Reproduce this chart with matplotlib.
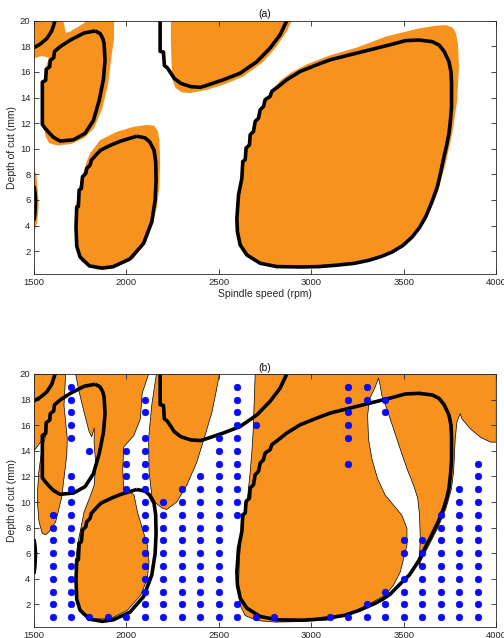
import numpy as np
import matplotlib.pyplot as plt

plt.rcParams['font.family'] = ['Liberation Sans', 'DejaVu Sans']

ORANGE = '#f7921e'

# ---- stability lobes (black lines), (rpm, depth mm) ----
lobe_arc = [(1500, 17.9), (1532, 18.16), (1569, 18.6), (1596, 19.2), (1614, 20)]

lobe_upper_left = [(1830, 19.2), (1857, 19.0), (1872, 18.6), (1879, 18.2), (1884, 16.9),
                   (1875, 15.4), (1853, 13.8), (1821, 12.2), (1776, 11.2), (1713, 10.7),
                   (1641, 10.6), (1605, 10.9), (1578, 11.3), (1560, 11.6), (1545, 11.9),
                   (1545, 15.2), (1563, 15.35), (1566, 16.2), (1585, 16.4), (1588, 16.9),
                   (1606, 17.1), (1611, 17.6), (1644, 18.0), (1698, 18.5), (1771, 19.04),
                   (1830, 19.2)]

lobe_lower_left = [(2056, 10.98), (2100, 10.85), (2125, 10.55), (2149, 9.9), (2158, 9.0),
                   (2160, 7.5), (2155, 5.98), (2137, 4.3), (2092, 2.6), (2019, 1.4),
                   (1929, 0.8), (1870, 0.68), (1800, 0.85), (1749, 1.55), (1731, 2.4),
                   (1727, 3.9), (1731, 5.46), (1740, 5.5), (1744, 6.77), (1756, 6.9),
                   (1762, 7.81), (1780, 8.07), (1785, 8.46), (1803, 8.72), (1810, 9.11),
                   (1834, 9.5), (1861, 9.9), (1915, 10.28), (1969, 10.6), (2056, 10.98)]

lobe_edge = [(1500, 7.1), (1505, 6.6), (1508, 6.0), (1505, 5.0), (1500, 4.4)]

lobe_top = [(2182, 20), (2182, 17.6), (2200, 17.55), (2205, 16.5), (2222, 16.3),
            (2240, 15.9), (2258, 15.5), (2294, 15.1), (2348, 14.85), (2400, 14.8),
            (2434, 14.95), (2524, 15.39), (2615, 15.9), (2705, 16.8), (2777, 17.87),
            (2831, 18.9), (2867, 20)]

# upper / left part of the big lobe, same in both panels
big_left = [(2950, 0.77), (2813, 0.8), (2723, 1.06), (2651, 1.71), (2615, 2.49),
            (2600, 3.53), (2597, 4.57), (2606, 6.4), (2624, 7.7), (2629, 9.0),
            (2642, 9.14), (2647, 10.05), (2665, 10.3), (2669, 11.09), (2687, 11.35),
            (2696, 12.13), (2714, 12.39), (2723, 13.04), (2741, 13.3), (2750, 13.83),
            (2777, 14.09), (2786, 14.48), (2822, 14.87), (2867, 15.39), (2940, 16.04),
            (3030, 16.56), (3102, 16.95), (3246, 17.47), (3426, 18.12), (3509, 18.44),
            (3582, 18.49), (3654, 18.36), (3690, 18.1), (3718, 17.6), (3744, 16.8),
            (3755, 16.0), (3758, 15.1), (3758, 13.28)]
big_right_a = [(3752, 12.2), (3744, 11.19), (3732, 10.3), (3717, 9.37), (3700, 8.2),
               (3681, 7.02), (3652, 5.85), (3618, 4.68), (3585, 3.85), (3545, 3.11),
               (3495, 2.45), (3437, 1.94), (3380, 1.6), (3311, 1.29), (3230, 1.05),
               (3130, 0.9), (3040, 0.8), (2950, 0.77)]
big_right_b = [(3752, 12.1), (3744, 11.06), (3732, 10.3), (3715, 9.5), (3693, 8.7),
               (3668, 7.93), (3645, 7.25), (3622, 6.63), (3600, 6.0), (3580, 5.4),
               (3555, 4.85), (3530, 4.3), (3480, 3.6), (3426, 2.8), (3385, 2.4),
               (3347, 2.1), (3260, 1.55), (3180, 1.15), (3094, 0.95), (3020, 0.83),
               (2950, 0.77)]

# ---- panel (a) unstable regions ----
reg_a_topleft = [(1500, 20), (1659, 20), (1671, 19.04), (1698, 19.17), (1771, 19.8),
                 (1780, 20), (1933, 20), (1933, 18.65), (1918, 17.08), (1900, 15.0),
                 (1870, 13.18), (1825, 11.62), (1771, 10.83), (1698, 10.36), (1626, 10.26),
                 (1581, 10.44), (1563, 10.96), (1554, 11.61), (1551, 15.0), (1563, 16.3),
                 (1580, 17.1), (1540, 17.25), (1500, 17.05)]
reg_a_edge = [(1500, 8.4), (1512, 8.0), (1522, 6.5), (1525, 5.5), (1518, 4.3), (1505, 3.7),
              (1500, 3.6)]
reg_a_lowleft = [(1803, 9.63), (1857, 10.67), (1947, 11.32), (2038, 11.71), (2110, 11.86),
                 (2150, 11.8), (2170, 11.35), (2178, 10.67), (2182, 9.1), (2178, 7.02),
                 (2164, 5.46), (2146, 4.28), (2110, 2.85), (2038, 1.42), (1929, 0.64),
                 (1839, 0.56), (1758, 1.16), (1727, 2.33), (1724, 3.9), (1727, 5.46),
                 (1742, 6.9), (1763, 7.94), (1781, 8.85)]
reg_a_topmid = [(2240, 20), (2894, 20), (2867, 19.17), (2813, 18.0), (2741, 16.8),
                (2633, 15.65), (2524, 15.0), (2434, 14.6), (2344, 14.35), (2300, 14.4),
                (2265, 14.75), (2248, 15.4), (2243, 17.0), (2240, 18.5)]
reg_a_big = [(3401, 18.75), (3582, 19.4), (3680, 19.62), (3730, 19.65), (3765, 19.45),
             (3782, 19.0), (3793, 18.2), (3798, 16.4), (3789, 13.8), (3762, 11.19),
             (3726, 8.85), (3681, 6.5), (3618, 4.42), (3545, 3.0), (3437, 1.85),
             (3311, 1.2), (3130, 0.82), (2950, 0.7), (2813, 0.72), (2723, 0.98),
             (2645, 1.65), (2608, 2.45), (2592, 3.5), (2590, 4.6), (2604, 6.14),
             (2617, 7.7), (2635, 9.27), (2662, 10.6), (2690, 11.7), (2716, 12.6),
             (2745, 13.5), (2780, 14.4), (2830, 15.3), (2885, 15.9), (2976, 16.6),
             (3102, 17.3), (3246, 17.9)]

# ---- panel (b) unstable regions ----
reg_b_left = [(1500, 20), (1671, 20), (1666, 18.6), (1662, 17.55), (1671, 16.25),
              (1680, 14.94), (1677, 13.64), (1666, 12.34), (1650, 10.4), (1635, 9.5),
              (1617, 8.45), (1581, 7.67), (1563, 7.45), (1545, 7.54), (1527, 8.45),
              (1518, 10.0), (1520, 11.06), (1526, 12.36), (1538, 13.67), (1552, 14.6),
              (1563, 15.2), (1500, 14.0)]
reg_b_mid = [(1725, 20), (1744, 18.6), (1771, 17.0), (1798, 15.5), (1812, 15.1),
             (1826, 15.8), (1825, 14.6), (1834, 12.9), (1825, 11.3), (1800, 10.3),
             (1771, 9.24), (1753, 7.93), (1735, 6.63), (1725, 5.33), (1725, 2.72),
             (1753, 1.42), (1825, 0.85), (1915, 0.9), (2005, 1.55), (2077, 2.72),
             (2113, 4.03), (2122, 5.33), (2113, 6.63), (2086, 7.93), (2059, 9.24),
             (2041, 10.54), (2010, 10.9), (1985, 11.0), (1980, 12.5), (1985, 14.3),
             (2040, 15.2), (2075, 16.5), (2085, 18.5), (2120, 20)]
reg_b_b4 = [(2162, 20), (2503, 20), (2488, 18.85), (2462, 17.0), (2425, 15.2),
            (2380, 13.1), (2326, 11.3), (2272, 10.0), (2218, 9.42), (2195, 9.5),
            (2160, 9.9), (2137, 10.5), (2122, 12.4), (2120, 15.0), (2137, 17.6)]
reg_b_right = [(2696, 20), (4000, 20), (4000, 14.68), (3968, 14.68), (3913, 15.07),
               (3859, 15.73), (3814, 16.5), (3805, 16.9), (3787, 16.25), (3778, 14.94),
               (3769, 12.34), (3757, 11.0), (3728, 9.5), (3682, 7.93), (3636, 6.63),
               (3595, 5.5), (3582, 5.0), (3589, 7.15), (3585, 8.98), (3575, 10.3),
               (3553, 11.3), (3517, 12.6), (3480, 14.16), (3444, 15.73), (3408, 17.29),
               (3381, 18.33), (3372, 19.11), (3363, 19.69), (3345, 18.98), (3315, 18.07),
               (3304, 16.77), (3309, 14.94), (3327, 13.38), (3358, 11.82), (3399, 10.54),
               (3444, 9.76), (3489, 8.98), (3517, 7.93), (3517, 6.63), (3499, 5.59),
               (3481, 4.55), (3444, 3.5), (3399, 2.72), (3300, 1.94), (3192, 1.16),
               (3084, 0.77), (2885, 0.64), (2804, 0.62), (2705, 0.74), (2642, 1.13),
               (2615, 1.92), (2605, 3.22), (2611, 5.56), (2619, 7.13), (2633, 8.7),
               (2654, 10.25), (2669, 12.34), (2678, 13.9), (2685, 15.5), (2690, 17.5)]

# ---- test cuts (rpm -> depths, mm) ----
cut_rpm = [1600, 1700, 1800, 1900, 2000, 2100, 2200, 2300, 2400, 2500, 2600, 2700,
           2800, 3100, 3200, 3300, 3400, 3500, 3600, 3700, 3800, 3900]
cut_depths = [
    [1, 2, 3, 4, 5, 6, 7, 8, 9],
    [1, 2, 3, 4, 5, 6, 7, 8, 9, 10, 11, 12, 15, 16, 17, 18, 19],
    [1, 14],
    [1],
    [1, 11, 12, 13, 14],
    [1, 2, 3, 4, 5, 6, 7, 8, 9, 10, 11, 12, 13, 14, 15, 17, 18],
    [1, 2, 3, 4, 5, 6, 7, 8, 9, 10],
    [1, 2, 3, 4, 5, 6, 7, 8, 9, 10, 11],
    [1, 2, 3, 4, 5, 6, 7, 8, 9, 10, 11, 12],
    [1, 2, 3, 4, 5, 6, 7, 8, 9, 10, 11, 12, 13, 14, 15],
    [1, 2, 9, 10, 11, 12, 13, 14, 15, 16, 17, 18, 19],
    [1, 16],
    [1],
    [1],
    [1, 13, 15, 16, 17, 18, 19],
    [1, 2, 18, 19],
    [1, 2, 3, 17, 18],
    [1, 2, 3, 4, 6, 7],
    [1, 2, 3, 4, 5, 6, 7],
    [1, 2, 3, 4, 5, 6, 7, 8, 9],
    [1, 2, 3, 4, 5, 6, 7, 8, 9, 10, 11],
    [1, 2, 3, 4, 5, 6, 7, 8, 9, 10, 11, 12, 13],
]


def draw_lines(ax, big_right):
    for ln in [lobe_arc, lobe_upper_left, lobe_lower_left, lobe_edge, lobe_top,
               big_left + big_right]:
        xy = np.array(ln)
        ax.plot(xy[:, 0], xy[:, 1], color='k', lw=2.6, solid_joinstyle='round',
                solid_capstyle='butt', zorder=3)


def style(ax, title):
    ax.set_xlim(1500, 4000)
    ax.set_ylim(0.2, 20)
    ax.set_xticks(range(1500, 4001, 500))
    ax.set_yticks(range(2, 21, 2))
    ax.tick_params(direction='in', top=True, right=True, length=3.5, width=0.6,
                   labelsize=6.8, colors='#262626', pad=2.5)
    for s in ax.spines.values():
        s.set_linewidth(0.6)
        s.set_color('#262626')
        s.set_zorder(5)
    ax.set_title(title, fontsize=7.5, pad=2.5, color='#111111')
    ax.set_xlabel('Spindle speed (rpm)', fontsize=7.5, labelpad=1.5, color='#262626')
    ax.set_ylabel('Depth of cut (mm)', fontsize=7.5, labelpad=2, color='#262626')


fig = plt.figure(figsize=(5.04, 6.38), dpi=100)
ax1 = fig.add_axes([0.0675, 0.5701, 0.9172, 0.3975])
ax2 = fig.add_axes([0.0675, 0.0165, 0.9172, 0.3973])

# (a)
for reg in [reg_a_topleft, reg_a_edge, reg_a_lowleft, reg_a_topmid, reg_a_big]:
    xy = np.array(reg)
    ax1.fill(xy[:, 0], xy[:, 1], color=ORANGE, lw=0, zorder=1)
draw_lines(ax1, big_right_a)
style(ax1, '(a)')

# (b)
for reg in [reg_b_left, reg_b_mid, reg_b_b4, reg_b_right]:
    xy = np.array(reg)
    ax2.fill(xy[:, 0], xy[:, 1], facecolor=ORANGE, edgecolor='k', lw=0.5, zorder=1)
draw_lines(ax2, big_right_b)
for r, ds in zip(cut_rpm, cut_depths):
    ax2.plot([r] * len(ds), ds, 'o', color='#0a0aff', ms=4.8, mec='#0000e0', mew=0.4,
             zorder=4)
style(ax2, '(b)')

fig.savefig('out.png', dpi=100)
